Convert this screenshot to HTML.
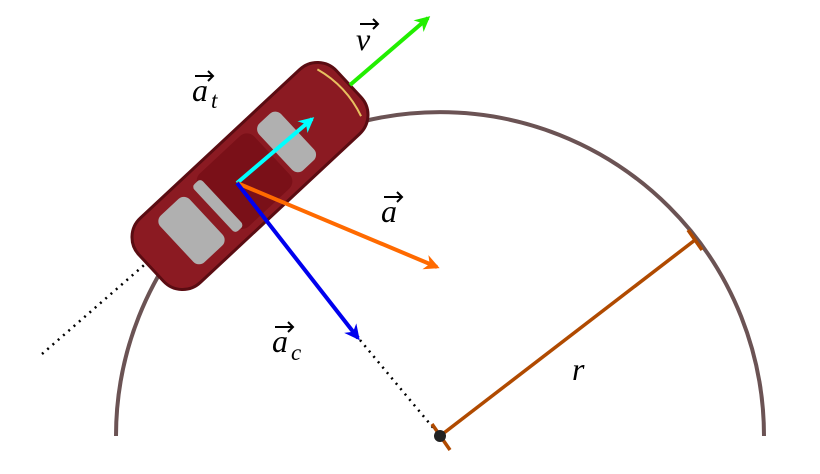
<!DOCTYPE html>
<html><head><meta charset="utf-8"><style>
html,body{margin:0;padding:0;background:#fff;width:820px;height:474px;overflow:hidden}
text{font-family:"Liberation Serif",serif;font-style:italic;font-size:32px;fill:#000}
</style></head><body>
<svg width="820" height="474" viewBox="0 0 820 474">
<defs>
<marker id="mg" viewBox="0 0 10 10" refX="8" refY="5" markerWidth="7" markerHeight="7" markerUnits="userSpaceOnUse" orient="auto" style="overflow:visible"><path d="M0,0 L10,5 L0,10 L3,5z" fill="#22ee00" transform="scale(2.2) translate(-4.5,-2.7)"/></marker>
<marker id="mc" viewBox="0 0 10 10" refX="8" refY="5" markerWidth="7" markerHeight="7" markerUnits="userSpaceOnUse" orient="auto" style="overflow:visible"><path d="M0,0 L10,5 L0,10 L3,5z" fill="#00ffff" transform="scale(2.2) translate(-4.5,-2.7)"/></marker>
<marker id="mo" viewBox="0 0 10 10" refX="8" refY="5" markerWidth="7" markerHeight="7" markerUnits="userSpaceOnUse" orient="auto" style="overflow:visible"><path d="M0,0 L10,5 L0,10 L3,5z" fill="#ff6a00" transform="scale(2.2) translate(-4.5,-2.7)"/></marker>
<marker id="mb" viewBox="0 0 10 10" refX="8" refY="5" markerWidth="7" markerHeight="7" markerUnits="userSpaceOnUse" orient="auto" style="overflow:visible"><path d="M0,0 L10,5 L0,10 L3,5z" fill="#0000ee" transform="scale(2.2) translate(-4.5,-2.7)"/></marker>
</defs>
<path d="M116,436 A324,324 0 0 1 764,436" fill="none" stroke="#6b5354" stroke-width="4"/>
<line x1="42" y1="354" x2="352" y2="84" stroke="#000" stroke-width="2.5" stroke-dasharray="2,5"/>
<line x1="360" y1="340" x2="440" y2="436" stroke="#000" stroke-width="2.5" stroke-dasharray="2,5"/>
<line x1="440" y1="436" x2="695" y2="240" stroke="#b04a00" stroke-width="3.5"/>
<line x1="688" y1="230" x2="702" y2="250" stroke="#b04a00" stroke-width="3.5"/>
<line x1="432" y1="424" x2="450" y2="450" stroke="#b04a00" stroke-width="3.5"/>
<circle cx="440" cy="436" r="6" fill="#222"/>
<g transform="translate(250,176) rotate(-43)">
<rect x="-135" y="-44" width="270" height="88" rx="26" fill="#8b1a22" stroke="#5a0c12" stroke-width="3"/>
<rect x="-100" y="-32" width="40" height="64" rx="8" fill="#b0b0b0"/>
<rect x="-45" y="-36" width="75" height="72" rx="10" fill="#7a1018"/>
<rect x="-50" y="-32" width="12" height="64" rx="4" fill="#b0b0b0"/>
<rect x="35" y="-32" width="30" height="64" rx="8" fill="#b0b0b0"/>
<path d="M122,-32 Q132,0 122,32" stroke="#e8c060" stroke-width="2" fill="none"/>
</g>
<line x1="350" y1="85" x2="428" y2="18" stroke="#22ee00" stroke-width="4" marker-end="url(#mg)"/>
<line x1="237" y1="183" x2="312" y2="119" stroke="#00ffff" stroke-width="4" marker-end="url(#mc)"/>
<line x1="237" y1="183" x2="437" y2="267" stroke="#ff6a00" stroke-width="4" marker-end="url(#mo)"/>
<line x1="237" y1="183" x2="358" y2="338" stroke="#0000ee" stroke-width="4" marker-end="url(#mb)"/>
<g><text x="356" y="50">v</text><path d="M360,24 L378,24 M373,19 L378,24 L373,29" stroke="#000" stroke-width="2" fill="none"/></g>
<g><text x="192" y="101">a</text><text x="211" y="108" style="font-size:23px">t</text><path d="M195,76 L213,76 M208,71 L213,76 L208,81" stroke="#000" stroke-width="2" fill="none"/></g>
<g><text x="381" y="222">a</text><path d="M384,197 L402,197 M397,192 L402,197 L397,202" stroke="#000" stroke-width="2" fill="none"/></g>
<g><text x="272" y="352">a</text><text x="291" y="360" style="font-size:23px">c</text><path d="M275,327 L293,327 M288,322 L293,327 L288,332" stroke="#000" stroke-width="2" fill="none"/></g>
<text x="572" y="380">r</text>
</svg>
</body></html>
